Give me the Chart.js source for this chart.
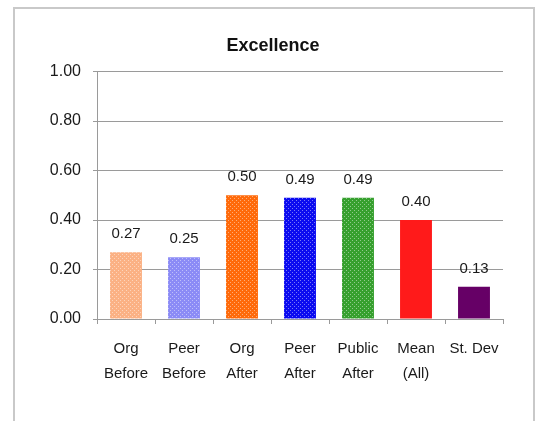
<!DOCTYPE html>
<html>
<head>
<meta charset="utf-8">
<script src="https://cdn.jsdelivr.net/npm/chart.js@4"></script>
<style>
  html, body { margin:0; padding:0; background:#fff; overflow:hidden; width:541px; height:421px; }
  #frame { position:absolute; left:13px; top:7px; width:522px; height:500px; border:2px solid #c9c9c9; box-sizing:border-box; }
  #c { position:absolute; left:0; top:0; }
</style>
</head>
<body>
<div id="frame"></div>
<canvas id="c" width="541" height="421"></canvas>
<script>
const chartTitle = 'Excellence';
const categories = [['Org','Before'],['Peer','Before'],['Org','After'],['Peer','After'],['Public','After'],['Mean','(All)'],['St. Dev']];
const values = [0.27, 0.25, 0.50, 0.49, 0.49, 0.40, 0.13];
const barColors = ['#fbb184', '#8b8bf6', '#ff6a0a', '#0b0bf0', '#36a02e', '#ff1a1a', '#660066'];
const dottedBars = [true, true, true, true, true, false, false];
const yMin = 0, yMax = 1, yStep = 0.2;

const FONT = '"Liberation Sans", Arial, sans-serif';
const canvas = document.getElementById('c');
const ctx0 = canvas.getContext('2d');

function makeFill(color, dotted) {
  if (!dotted) return color;
  const t = document.createElement('canvas');
  t.width = 4; t.height = 4;
  const g = t.getContext('2d');
  g.fillStyle = color; g.fillRect(0, 0, 4, 4);
  g.fillStyle = 'rgba(255,255,255,0.45)';
  g.fillRect(0, 0, 1, 1); g.fillRect(2, 2, 1, 1);
  return ctx0.createPattern(t, 'repeat');
}

const valueLabels = {
  id: 'valueLabels',
  afterDatasetsDraw(chart) {
    const ctx = chart.ctx;
    const meta = chart.getDatasetMeta(0);
    ctx.save();
    ctx.font = '15px ' + FONT;
    ctx.fillStyle = '#1a1a1a';
    ctx.textAlign = 'center';
    ctx.textBaseline = 'alphabetic';
    meta.data.forEach((el, i) => {
      ctx.fillText(values[i].toFixed(2), el.x, el.y - 14);
    });
    ctx.restore();
  }
};

new Chart(canvas, {
  type: 'bar',
  data: {
    labels: categories,
    datasets: [{
      data: values,
      backgroundColor: barColors.map((c, i) => makeFill(c, dottedBars[i])),
      borderWidth: 0,
      barPercentage: 0.55,
      categoryPercentage: 1
    }]
  },
  options: {
    responsive: false,
    animation: false,
    devicePixelRatio: 1,
    layout: { padding: { left: 5, right: 0, top: 0, bottom: 0 } },
    plugins: {
      legend: { display: false },
      tooltip: { enabled: false },
      title: {
        display: true,
        text: chartTitle,
        color: '#111',
        font: { family: FONT, size: 18, weight: 'bold', lineHeight: 1.2 },
        padding: { top: 35, bottom: 15 }
      }
    },
    scales: {
      x: {
        grid: { offset: true, drawOnChartArea: false, tickLength: 5, color: '#9a9a9a' },
        border: { color: '#9a9a9a' },
        ticks: {
          color: '#1a1a1a',
          font: { family: FONT, size: 15, lineHeight: '25px' },
          padding: 12,
          maxRotation: 0,
          autoSkip: false
        },
        afterFit(s) { s.height = 102; }
      },
      y: {
        min: yMin, max: yMax,
        grid: { color: '#9a9a9a', tickLength: 4 },
        border: { color: '#9a9a9a' },
        ticks: {
          stepSize: yStep,
          color: '#1a1a1a',
          font: { family: FONT, size: 16 },
          padding: 12,
          callback: v => Number(v).toFixed(2)
        },
        afterFit(s) { s.width = 92; }
      },
      yRight: {
        position: 'right',
        display: true,
        grid: { display: false },
        border: { display: false },
        ticks: { display: false },
        afterFit(s) { s.width = 38; }
      }
    }
  },
  plugins: [valueLabels]
});
</script>
</body>
</html>
